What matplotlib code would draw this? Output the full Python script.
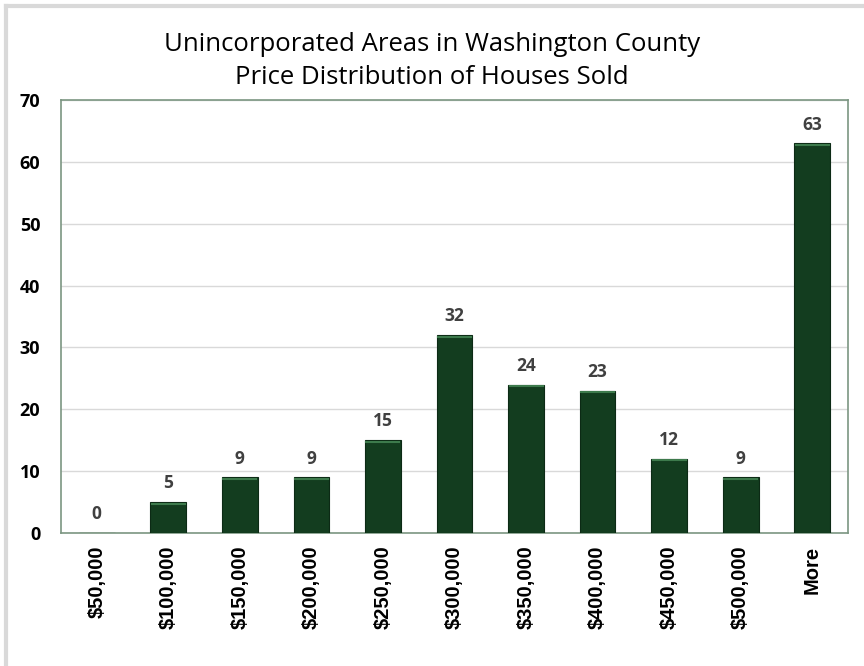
import matplotlib.pyplot as plt
from matplotlib.lines import Line2D

categories = ['$50,000', '$100,000', '$150,000', '$200,000', '$250,000', '$300,000',
              '$350,000', '$400,000', '$450,000', '$500,000', 'More']
counts = [0, 5, 9, 9, 15, 32, 24, 23, 12, 9, 63]
title = 'Unincorporated Areas in Washington County\nPrice Distribution of Houses Sold'

fig = plt.figure(figsize=(8.64, 6.66), dpi=100)
ax = fig.add_axes([61 / 864, 1 - 533 / 666, (848 - 61) / 864, (533 - 100) / 666])

x = range(len(categories))
bars = ax.bar(x, counts, width=0.5, color='#133d1f', edgecolor='#0c2a15', linewidth=0.8, zorder=3)
# lighter rim at the top of each bar
for b in bars:
    if b.get_height() > 0:
        ax.plot([b.get_x() + 0.02, b.get_x() + b.get_width() - 0.02],
                [b.get_height() - 0.25] * 2, color='#3d7a4c', lw=1.5, zorder=4)

for i, v in enumerate(counts):
    ax.annotate(str(v), (i, v), xytext=(0, 7), textcoords='offset points',
                ha='center', va='bottom', fontsize=12.5, fontweight='bold',
                color='#404040', family='Open Sans')

ax.set_xlim(-0.5, len(categories) - 0.5)
ax.set_ylim(0, 70)
ax.set_yticks(range(0, 71, 10))
ax.yaxis.grid(True, color='#d9d9d9', lw=1, zorder=0)
ax.set_xticks(list(x))
ax.set_xticklabels(categories, rotation=90, fontsize=14.5, fontweight='bold',
                   family='Liberation Sans')
for lab in ax.get_yticklabels():
    lab.set_fontweight('bold')
    lab.set_fontsize(13)
    lab.set_family('Open Sans')
ax.tick_params(length=0)
ax.tick_params(axis='y', pad=15)
ax.tick_params(axis='x', pad=9)
for s in ax.spines.values():
    s.set_color('#7c9682')
    s.set_linewidth(1.2)

fig.text(0.5, 1 - 61 / 666, title, ha='center', va='center', fontsize=18.5,
         family='Open Sans', linespacing=1.45)

# outer frame (top and left edges visible)
fig.add_artist(Line2D([6 / 864, 1], [1 - 6 / 666, 1 - 6 / 666], color='#d9d9d9', lw=3, transform=fig.transFigure))
fig.add_artist(Line2D([6 / 864, 6 / 864], [0, 1 - 6 / 666], color='#d9d9d9', lw=3, transform=fig.transFigure))

fig.savefig('out.png', dpi=100)
